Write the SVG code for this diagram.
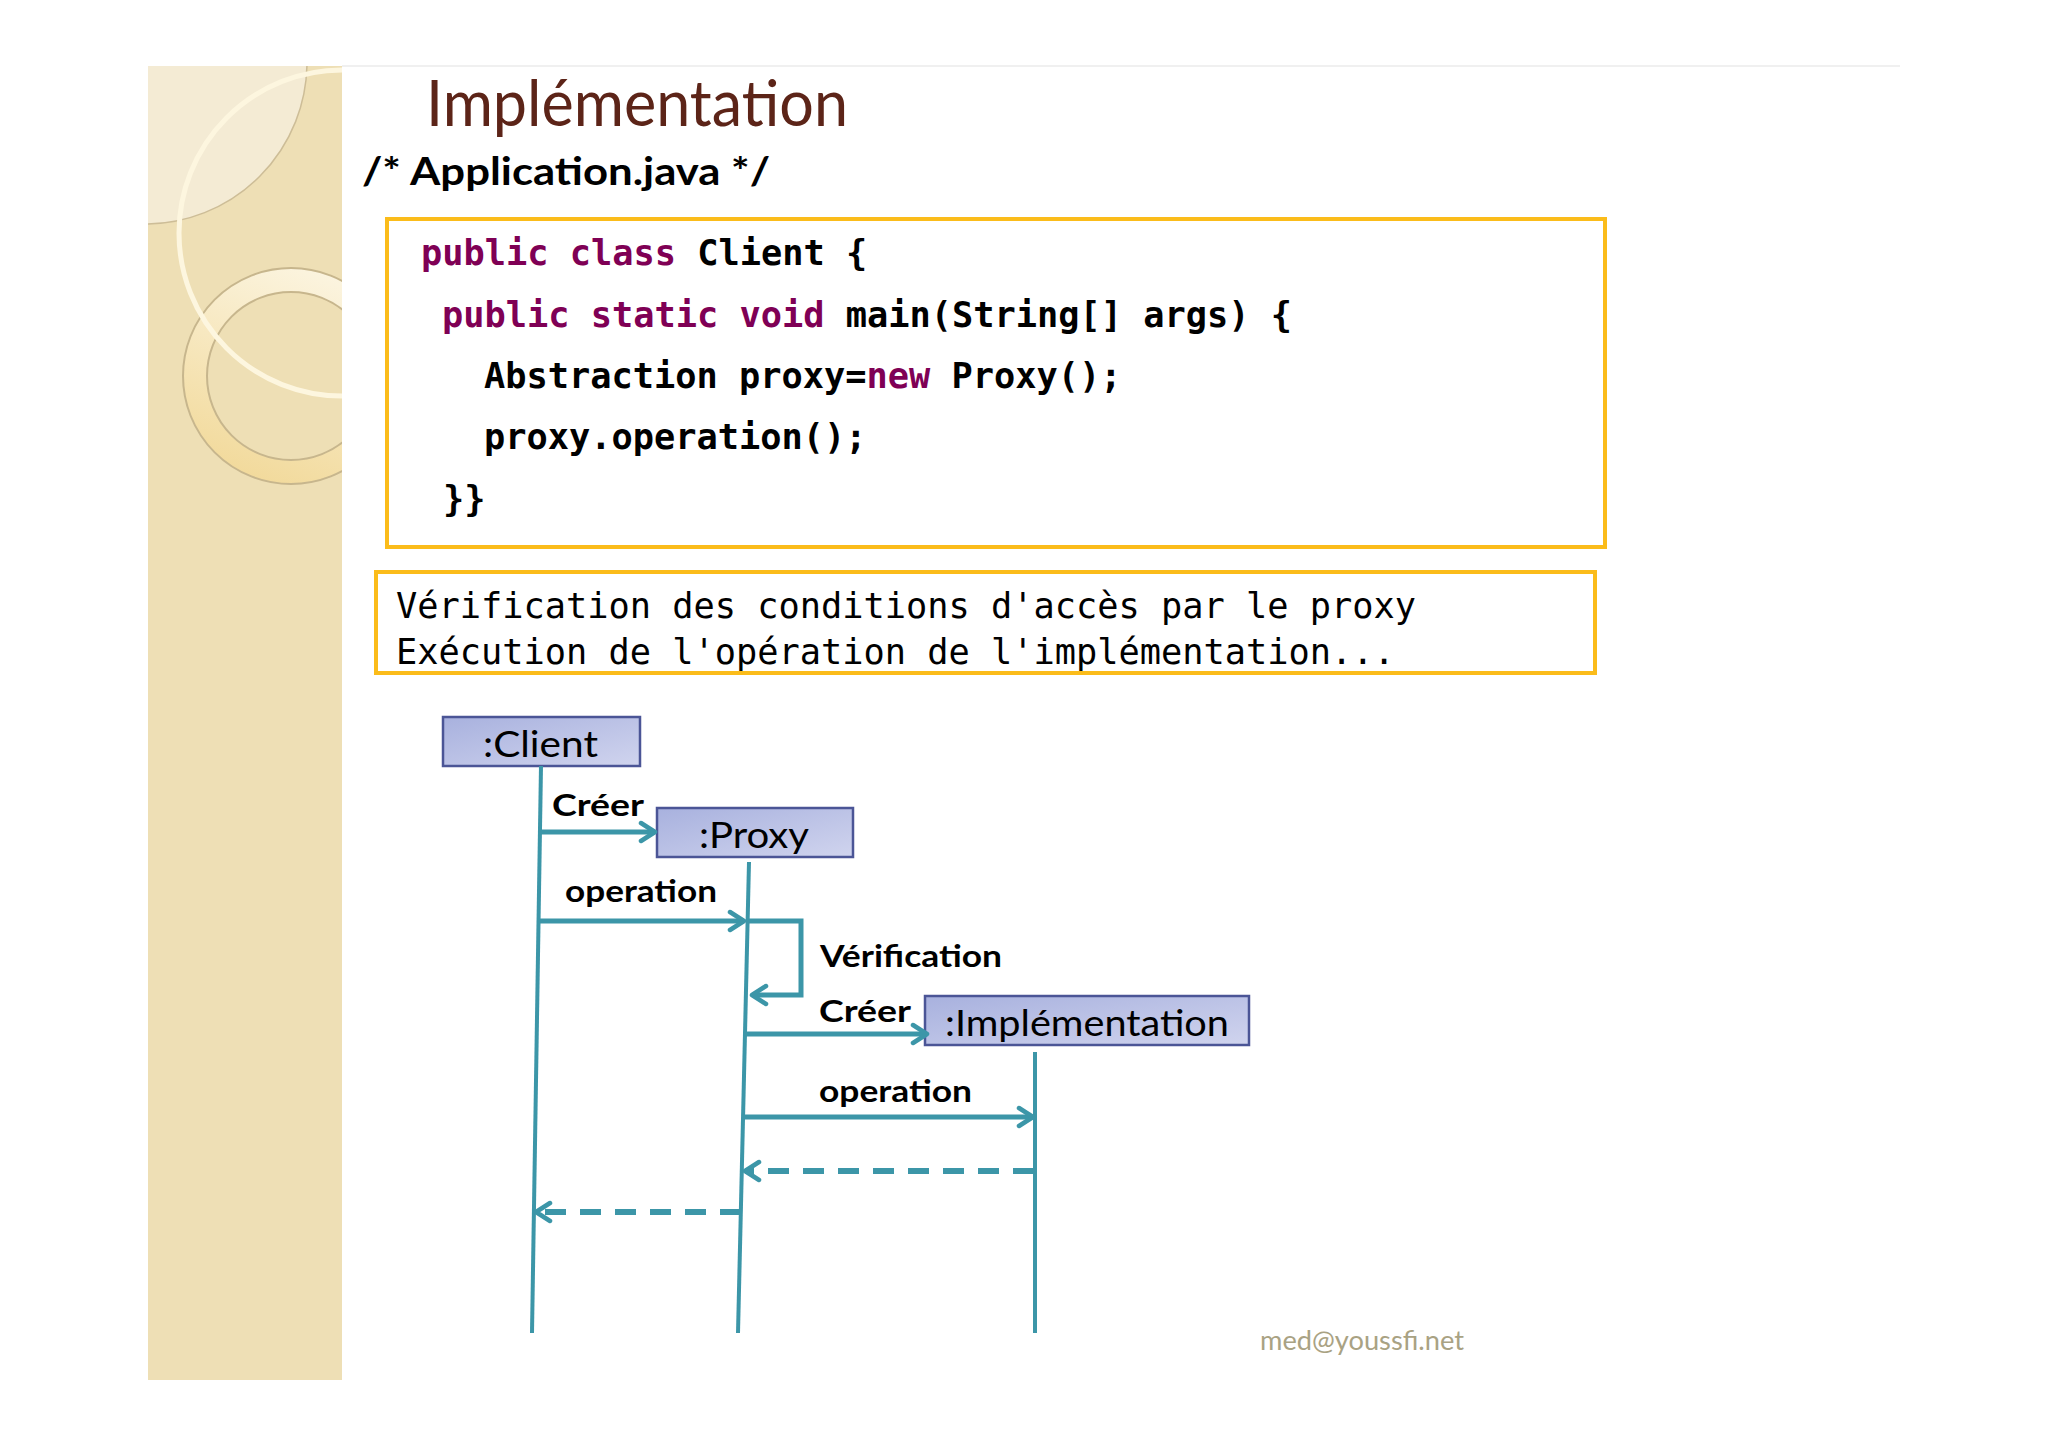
<svg xmlns="http://www.w3.org/2000/svg" width="2048" height="1447" viewBox="0 0 2048 1447">
<style>
.code{font-family:"DejaVu Sans Mono","Liberation Mono",monospace;font-size:35.3px;fill:#000}
.cb{font-weight:bold}
.kw{fill:#7f0055}
.box{fill:#fff;stroke:#fbbc1a;stroke-width:4}
.obj{fill:url(#objg);stroke:#4b5596;stroke-width:2.5}
.objt{font-family:Lato,"Open Sans",sans-serif;font-size:37px;fill:#000}
.lbl{font-family:Lato,"Open Sans",sans-serif;font-size:30px;font-weight:bold;fill:#000}
.life{stroke:#3c96a8;stroke-width:4;fill:none}
.msg{stroke:#3c96a8;stroke-width:5;fill:none;marker-end:url(#arr)}
.ret{stroke:#3c96a8;stroke-width:6;fill:none;stroke-dasharray:21 14;marker-end:url(#arr)}
</style>
<defs>
<linearGradient id="objg" x1="0" y1="0" x2="1" y2="1">
<stop offset="0" stop-color="#a8b1de"/>
<stop offset="1" stop-color="#d0d4ee"/>
</linearGradient>
<linearGradient id="ringg" x1="0.8" y1="0" x2="0.4" y2="1">
<stop offset="0" stop-color="#fcf6e4"/>
<stop offset="1" stop-color="#f2da9c"/>
</linearGradient>
<clipPath id="side"><rect x="148" y="66" width="194" height="1314"/></clipPath>
<marker id="arr" markerUnits="userSpaceOnUse" viewBox="0 0 20 24" markerWidth="20" markerHeight="24" refX="17" refY="12" orient="auto">
<path d="M3,3 L17,12 L3,21" fill="none" stroke="#3c96a8" stroke-width="4.5" stroke-linecap="round" stroke-linejoin="round"/>
</marker>
</defs>
<rect width="2048" height="1447" fill="#fff"/>
<line x1="342" y1="66" x2="1900" y2="66" stroke="#ebebeb" stroke-width="1.5"/>
<g id="sidebar" clip-path="url(#side)">
<rect x="148" y="66" width="194" height="1314" fill="#eedfb5"/>
<circle cx="145" cy="62" r="162" fill="#f4ebd4" stroke="#cdbd97" stroke-width="1.5"/>
<path d="M399,376 A108,108 0 1 0 183,376 A108,108 0 1 0 399,376 Z M375,376 A84,84 0 1 1 207,376 A84,84 0 1 1 375,376 Z" fill="url(#ringg)" fill-rule="evenodd" stroke="#c7b68d" stroke-width="2"/>
<circle cx="342" cy="233" r="163" fill="none" stroke="#fdf6df" stroke-width="5"/>
</g>
<g id="title">
<text x="426" y="126" font-family="Lato,'Open Sans',sans-serif" font-size="64" fill="#5c2418" textLength="422" lengthAdjust="spacingAndGlyphs">Implémentation</text>
<text x="362" y="185" font-family="Lato,'Open Sans',sans-serif" font-size="39" font-weight="bold" fill="#000" textLength="408" lengthAdjust="spacingAndGlyphs">/* Application.java */</text>
</g>
<g id="code-box">
<rect class="box" x="387" y="219" width="1218" height="328"/>
<text class="code cb" x="421" y="265"><tspan class="kw">public class</tspan> Client {</text>
<text class="code cb" x="442" y="327"><tspan class="kw">public static void</tspan> main(String[] args) {</text>
<text class="code cb" x="484" y="388">Abstraction proxy=<tspan class="kw">new</tspan> Proxy();</text>
<text class="code cb" x="484" y="449">proxy.operation();</text>
<text class="code cb" x="443" y="511">}}</text>
</g>
<g id="output-box">
<rect class="box" x="376" y="572" width="1219" height="101"/>
<text class="code" x="396" y="618">Vérification des conditions d'accès par le proxy</text>
<text class="code" x="396" y="664">Exécution de l'opération de l'implémentation...</text>
</g>
<g id="client">
<rect class="obj" x="443" y="717" width="197" height="49"/>
<text class="objt" x="483" y="757" textLength="115" lengthAdjust="spacingAndGlyphs">:Client</text>
<line class="life" x1="541" y1="766" x2="532" y2="1333"/>
</g>
<g id="proxy">
<rect class="obj" x="657" y="808" width="196" height="49"/>
<text class="objt" x="699" y="848" textLength="110" lengthAdjust="spacingAndGlyphs">:Proxy</text>
<line class="life" x1="749" y1="862" x2="738" y2="1333"/>
</g>
<g id="implementation">
<rect class="obj" x="925" y="996" width="324" height="49"/>
<text class="objt" x="945" y="1036" textLength="284" lengthAdjust="spacingAndGlyphs">:Implémentation</text>
<line class="life" x1="1035" y1="1052" x2="1035" y2="1333"/>
</g>
<g id="connectors">
<path class="msg" d="M541,832 H655"/>
<path class="msg" d="M539,921 H744"/>
<path class="msg" d="M748,921 H801 V995 H752"/>
<path class="msg" d="M746,1034 H927"/>
<path class="msg" d="M744,1117 H1033"/>
<path class="ret" d="M1034,1171 H745"/>
<path class="ret" d="M741,1212 H536"/>
</g>
<g id="labels">
<text class="lbl" x="552" y="816" textLength="92" lengthAdjust="spacingAndGlyphs">Créer</text>
<text class="lbl" x="565" y="902" textLength="152" lengthAdjust="spacingAndGlyphs">operation</text>
<text class="lbl" x="820" y="967" textLength="182" lengthAdjust="spacingAndGlyphs">Vérification</text>
<text class="lbl" x="819" y="1022" textLength="92" lengthAdjust="spacingAndGlyphs">Créer</text>
<text class="lbl" x="819" y="1102" textLength="153" lengthAdjust="spacingAndGlyphs">operation</text>
</g>
<text x="1260" y="1350" font-family="Lato,'Open Sans',sans-serif" font-size="27" fill="#a9a283" textLength="204" lengthAdjust="spacingAndGlyphs">med@youssfi.net</text>
</svg>
